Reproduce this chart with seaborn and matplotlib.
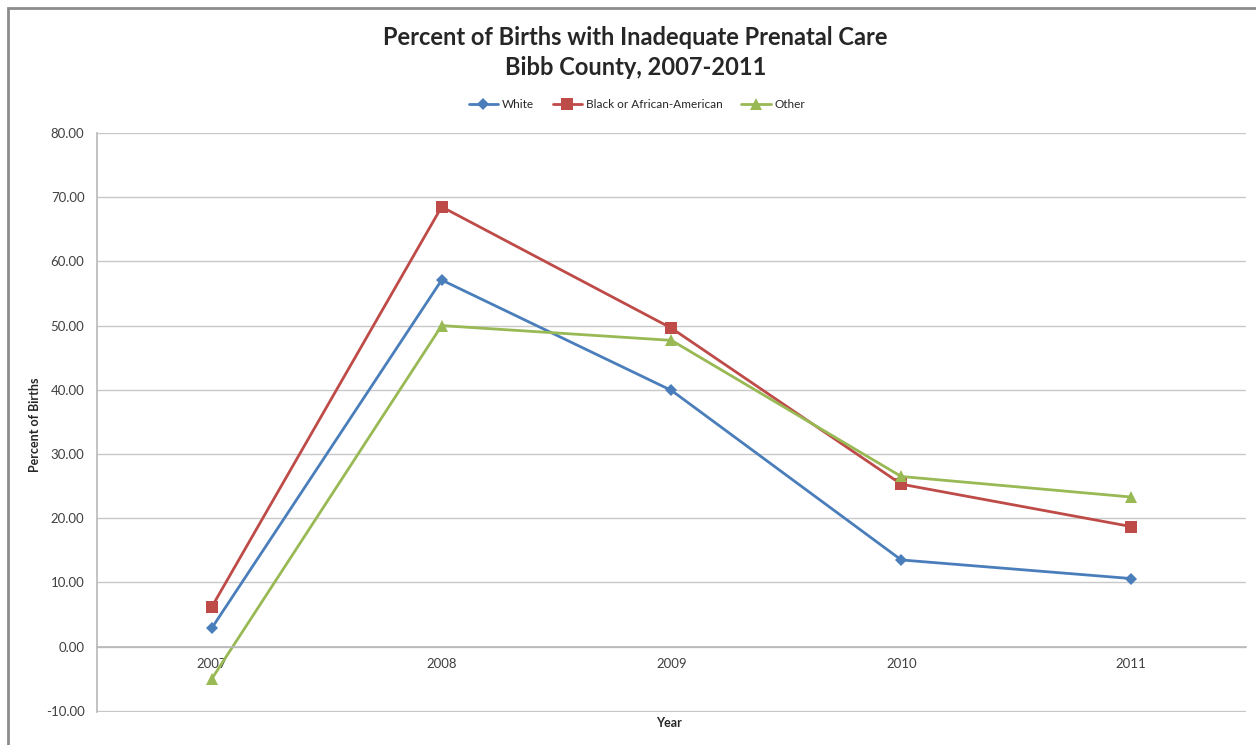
import pandas as pd
import matplotlib.pyplot as plt
import seaborn as sns
from matplotlib.patches import Rectangle
from matplotlib.ticker import FixedLocator, NullFormatter

# Data
years = ["2007", "2008", "2009", "2010", "2011"]
white = [2.9, 57.1, 39.9, 13.5, 10.6]
black = [6.2, 68.5, 49.6, 25.3, 18.7]
other = [-5.0, 50.0, 47.7, 26.5, 23.3]
groups = ["White", "Black or African-American", "Other"]
yticks = [-10, 0, 10, 20, 30, 40, 50, 60, 70, 80]

df = pd.DataFrame({
    "Year": years * 3,
    "Percent": white + black + other,
    "Group": [groups[0]] * 5 + [groups[1]] * 5 + [groups[2]] * 5,
})

sns.set_style("white")
plt.rcParams["font.family"] = ["Lato", "DejaVu Sans"]

palette = {"White": "#4a7ebb", "Black or African-American": "#be4b48", "Other": "#98b954"}
markers = {"White": "D", "Black or African-American": "s", "Other": "^"}

fig = plt.figure(figsize=(12.56, 7.45), dpi=100)
ax = fig.add_axes([0.0772, 0.0446, 0.9148, 0.7769])

sns.lineplot(data=df, x="Year", y="Percent", hue="Group", style="Group",
             palette=palette, markers=markers, dashes=False, linewidth=2,
             markersize=8, markeredgewidth=0, ax=ax)

# diamonds look a bit smaller in the original
for ln in ax.lines:
    if ln.get_marker() == "D":
        ln.set_markersize(6.5)
    elif ln.get_marker() == "s":
        ln.set_markersize(8.5)

# y axis
ax.set_ylim(-10.15, 80)
ax.set_yticks(yticks)
ax.set_yticklabels([f"{v:.2f}" for v in yticks], fontsize=9.5, color="#404040")
ax.yaxis.grid(True, color="#c8c8c8", linewidth=1)
ax.tick_params(axis="y", length=5, color="#c8c8c8", pad=4)

# x axis at zero, labels at category centres, ticks between categories
ax.set_xlim(-0.5, 4.5)
ax.spines["bottom"].set_position(("data", 0))
ax.xaxis.set_major_locator(FixedLocator([0.5, 1.5, 2.5, 3.5, 4.5]))
ax.xaxis.set_major_formatter(NullFormatter())
ax.xaxis.set_minor_locator(FixedLocator(range(len(years))))
ax.set_xticklabels(years, minor=True, fontsize=9.5, color="#404040")
ax.tick_params(axis="x", which="major", length=4, color="#b0b0b0", direction="out")
ax.tick_params(axis="x", which="minor", length=0, pad=8)

for side in ["top", "right"]:
    ax.spines[side].set_visible(False)
ax.spines["left"].set_color("#b8b8b8")
ax.spines["bottom"].set_color("#b8b8b8")
ax.spines["left"].set_linewidth(1.2)
ax.spines["bottom"].set_linewidth(1.2)

ax.set_xlabel("")
ax.set_ylabel("")
fig.text(0.533, 0.030, "Year", fontsize=9, fontweight="bold", ha="center", va="center")
fig.text(0.028, 0.43, "Percent of Births", fontsize=9, fontweight="bold",
         rotation=90, ha="center", va="center")

fig.text(0.506, 0.950, "Percent of Births with Inadequate Prenatal Care",
         fontsize=17, fontweight="bold", ha="center", va="center")
fig.text(0.506, 0.909, "Bibb County, 2007-2011",
         fontsize=17, fontweight="bold", ha="center", va="center")

handles, labels = ax.get_legend_handles_labels()
ax.legend(handles, labels, loc="center", bbox_to_anchor=(0.507, 0.860),
          bbox_transform=fig.transFigure, ncol=3, frameon=False, fontsize=8.5,
          handlelength=2.5, columnspacing=1.6, handletextpad=0.3)

# outer chart frame
fig.patches.append(Rectangle((8 / 1256, -0.1), 1.2, 1.1 - 8 / 745,
                             transform=fig.transFigure, fill=False,
                             edgecolor="#8c8c8c", linewidth=2))

fig.savefig("out.png", dpi=100)
